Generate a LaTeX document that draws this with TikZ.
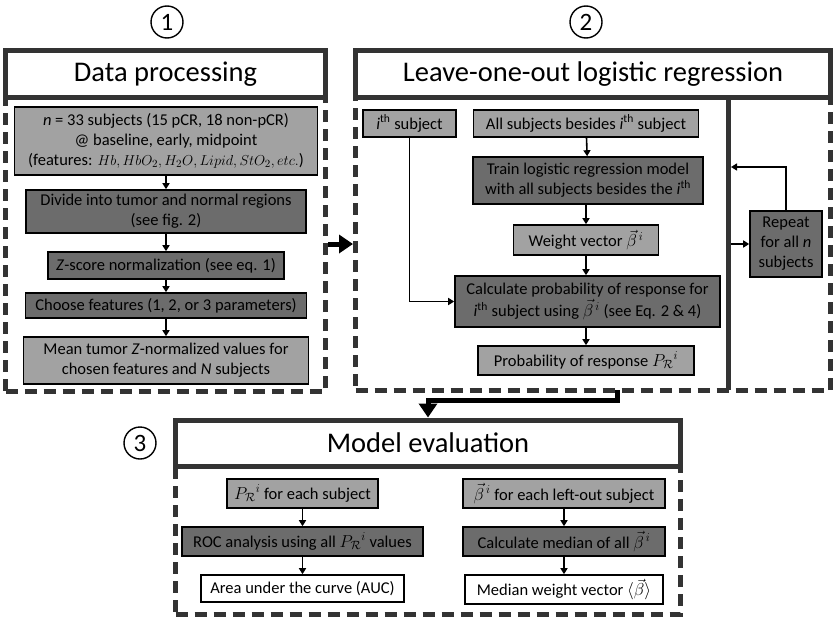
\documentclass[tikz,border=0pt]{standalone}
\usepackage{amsmath,amssymb}
\usepackage{fontspec}
\setmainfont{Carlito}
\usetikzlibrary{positioning,arrows.meta}

\definecolor{lightfill}{HTML}{A2A2A2}
\definecolor{darkfill}{HTML}{6C6C6C}
\definecolor{framegray}{HTML}{333333}

\newcommand{\ith}{\textit{i}\textsuperscript{th}}
\newcommand{\probR}{P_{\mathcal{R}}{}^{i}}
\newcommand{\bodyfont}{\fontsize{16.5}{20}\selectfont}
\newcommand{\titlefont}{\fontsize{28.5}{30}\selectfont}
\newcommand{\mathsmall}{\fontsize{15.5}{20}\selectfont}

\begin{document}
\begin{tikzpicture}[x=1pt, y=-1pt]
        \tikzset{
            lightbox/.style = {rectangle, line width=1.6pt, draw=black, fill=lightfill, align=center, inner sep=1pt, font=\bodyfont},
            darkbox/.style = {lightbox, fill=darkfill},
            whitebox/.style = {lightbox, fill=white},
            paneltitle/.style = {rectangle, line width=5pt, draw=framegray, fill=white, font=\titlefont},
            panelbody/.style = {rectangle, line width=5pt, draw=framegray, dash pattern=on 12pt off 7pt},
            stepnum/.style = {circle, line width=1.4pt, draw=black, minimum size=32pt, inner sep=0pt, font=\fontsize{25}{26}\selectfont},
            arrow/.style = {line width=1.6pt,->,>={Triangle[length=6pt,width=7pt]}},
            bigarrow/.style = {line width=5pt,-{Triangle[length=14pt,width=18pt]}}
        }
        \useasboundingbox (0,0) rectangle (837,621);

        % panel frames
        \node (body1) [panelbody, minimum width=320, minimum height=294] at (165.5,244) {};
        \node (title1) [paneltitle, minimum width=320, minimum height=46.5] at (165.5,73.75) {Data processing};
        \node (body2) [panelbody, minimum width=475, minimum height=293] at (593,243.5) {};
        \node (title2) [paneltitle, minimum width=475, minimum height=46.5] at (593,73.75) {Leave-one-out logistic regression};
        \node (body3) [panelbody, minimum width=505, minimum height=148] at (428,540) {};
        \node (title3) [paneltitle, minimum width=505, minimum height=46] at (428,443) {Model evaluation};
        \coordinate (divtop) at (728.5,97);
        \coordinate (divbot) at (728.5,390);
        \draw [line width=5pt, framegray] (divtop) -- (divbot);

        \node (num1) [stepnum] at (167,22) {1};
        \node (num2) [stepnum] at (586,22) {2};
        \node (num3) [stepnum] at (140,443) {3};

        % data processing
        \node (subj) [lightbox, minimum width=303, minimum height=68] at (166,141) {\textit{n} = 33 subjects (15 pCR, 18 non-pCR)\\ @ baseline, early, midpoint\\ (features: {\mathsmall$Hb, HbO_2, H_2O, Lipid, StO_2, etc.$})};
        \node (divide) [darkbox, minimum width=280, minimum height=43] at (166,211.5) {Divide into tumor and normal regions\\ (see fig. 2)};
        \node (zscore) [darkbox, minimum width=236, minimum height=27] at (166,265.5) {\textit{Z}-score normalization (see eq. 1)};
        \node (choose) [darkbox, minimum width=281, minimum height=25] at (166,305.5) {Choose features (1, 2, or 3 parameters)};
        \node (mean) [lightbox, minimum width=285, minimum height=47] at (166,360.5) {Mean tumor \textit{Z}-normalized values for\\ chosen features and \textit{N} subjects};

        \draw [arrow] (subj) -- (divide);
        \draw [arrow] (divide) -- (zscore);
        \draw [arrow] (zscore) -- (choose);
        \draw [arrow] (choose) -- (mean);

        % leave-one-out
        \node (isubj) [lightbox, minimum width=93, minimum height=27] at (409.5,123.5) {\ith{} subject};
        \node (others) [lightbox, minimum width=225, minimum height=27] at (586,123.5) {All subjects besides \ith{} subject};
        \node (train) [darkbox, minimum width=230, minimum height=47] at (588,180.5) {Train logistic regression model\\ with all subjects besides the \ith};
        \node (weight) [lightbox, minimum width=145, minimum height=30] at (586,240) {Weight vector $\vec{\beta}^{\,i}$};
        \node (calc) [darkbox, minimum width=265, minimum height=51] at (587.5,301.5) {Calculate probability of response for\\[2pt] \ith{} subject using $\vec{\beta}^{\,i}$ (see Eq. 2 \& 4)};
        \node (prob) [lightbox, minimum width=216, minimum height=29] at (586,360.5) {Probability of response $\probR$};
        \node (repeat) [darkbox, minimum width=72, minimum height=66] at (786,244) {Repeat\\ for all \textit{n}\\ subjects};
        \coordinate (backin) at (731,167);
        \coordinate (backout) at (731,244);

        \draw [arrow] (others) -- (train);
        \draw [arrow] (train.south -| weight) -- (weight);
        \draw [arrow] (weight) -- (calc.north -| weight);
        \draw [arrow] (calc.south -| prob) -- (prob);
        \draw [arrow] (isubj) |- (calc);
        \draw [arrow] (repeat) |- (backin);
        \draw [arrow] (backout) -- (repeat);

        % model evaluation
        \node (pri) [lightbox, minimum width=151, minimum height=29] at (302.5,493.5) {$\probR$ for each subject};
        \node (roc) [darkbox, minimum width=241, minimum height=29] at (302.5,541.5) {ROC analysis using all $\probR$ values};
        \node (auc) [whitebox, minimum width=203, minimum height=27] at (302.5,588.5) {Area under the curve (AUC)};
        \node (bi) [lightbox, minimum width=202, minimum height=29] at (564,493.5) {$\vec{\beta}^{\,i}$ for each left-out subject};
        \node (median) [darkbox, minimum width=202, minimum height=29] at (564,541.5) {Calculate median of all $\vec{\beta}^{\,i}$};
        \node (mwv) [whitebox, minimum width=198, minimum height=29] at (564,589.5) {Median weight vector $\langle\vec{\beta}\rangle$};

        \draw [arrow] (pri) -- (roc);
        \draw [arrow] (roc) -- (auc);
        \draw [arrow] (bi) -- (median);
        \draw [arrow] (median) -- (mwv);

        % between panels
        \coordinate (p2out) at (617,390);
        \draw [bigarrow] (body1.east) -- (body1.east -| body2.west);
        \draw [bigarrow] (p2out) -- ++(0,10) -| (title3.north);

    \end{tikzpicture}
\end{document}
